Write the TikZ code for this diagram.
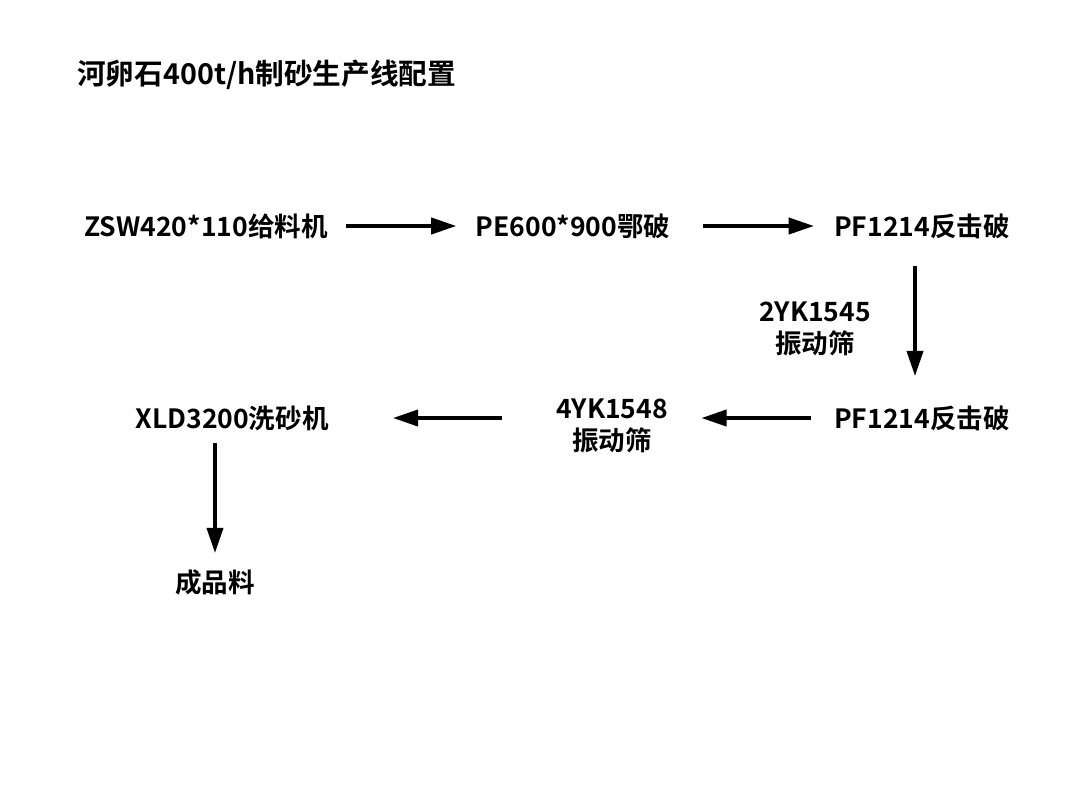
\documentclass[tikz,border=0pt]{standalone}
\usepackage{fontspec}
\setmainfont{Noto Sans CJK SC}[BoldFont={Noto Sans CJK SC Bold}]
\usetikzlibrary{arrows.meta}
\begin{document}
\begin{tikzpicture}[x=0.75pt,y=-0.75pt,
  lbl/.style={font=\fontsize{19.9pt}{24pt}\selectfont\bfseries, inner sep=0pt, align=center},
  box/.style={lbl, text height=17.45pt, text depth=2.45pt},
  flow/.style={line width=3pt, -{Triangle[length=19pt,width=12pt]}}]
\useasboundingbox (0,0) rectangle (1080,810);
\node[anchor=west, inner sep=0pt, font=\fontsize{21.5pt}{24pt}\selectfont\bfseries] (title) at (77,75) {河卵石400t/h制砂生产线配置};
\node[box] (A) at (206,226) {ZSW420*110给料机};
\node[box] (B) at (573,226) {PE600*900鄂破};
\node[box] (C) at (922,226) {PF1214反击破};
\node[lbl] (L1) at (815,329) {2YK1545\\振动筛};
\node[box] (D) at (922,418) {PF1214反击破};
\node[lbl] (E) at (612,426) {4YK1548\\振动筛};
\node[box] (F) at (232,418) {XLD3200洗砂机};
\node[box] (G) at (215,582) {成品料};
\draw[flow, shorten <=13.9pt, shorten >=14.3pt] (A.east) -- (B.west);
\draw[flow, shorten <=24pt, shorten >=15pt] (B.east) -- (C.west);
\draw[flow, shorten <=19.7pt, shorten >=21.2pt] ([xshift=-5.25pt]C.south) -- ([xshift=-5.25pt]D.north);
\draw[flow, shorten <=17.3pt, shorten >=24.8pt] (D.west) -- (E.east |- D.west);
\draw[flow, shorten <=40.5pt, shorten >=48pt] (E.west |- F.east) -- (F.east);
\draw[flow, shorten <=8.5pt, shorten >=11.5pt] (F.south -| G.north) -- (G.north);
\end{tikzpicture}
\end{document}
